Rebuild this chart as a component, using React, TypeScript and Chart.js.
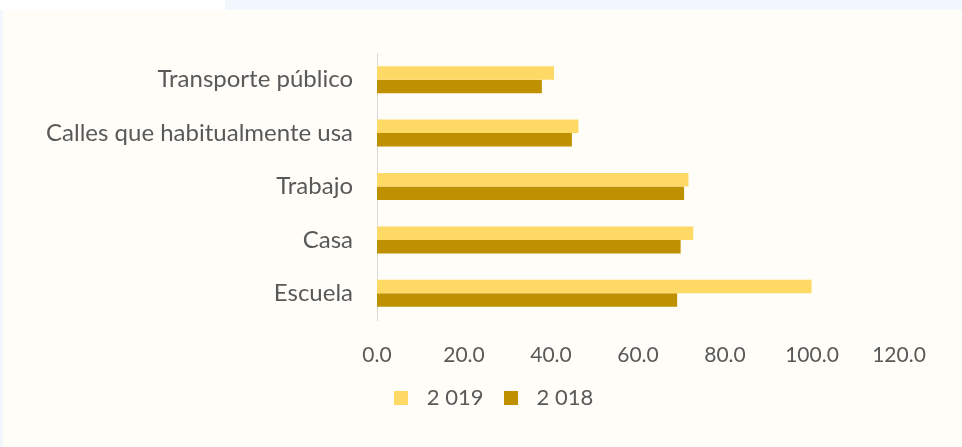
import React, { useEffect, useRef } from "react";
import { Chart, registerables } from "chart.js";

Chart.register(...registerables);

const categories = ["Transporte público", "Calles que habitualmente usa", "Trabajo", "Casa", "Escuela"];
const series2019 = [40.7, 46.3, 71.6, 72.7, 99.9];
const series2018 = [37.9, 44.8, 70.6, 69.8, 69.0];
const seriesLabels = ["2 019", "2 018"];
const seriesColors = ["#FFD966", "#BF9000"];

const FONT = "Lato, 'Open Sans', sans-serif";
const TEXT = "#595959";

function swatch(color: string) {
  const c = document.createElement("canvas");
  c.width = 14;
  c.height = 14;
  const g = c.getContext("2d")!;
  g.fillStyle = color;
  g.fillRect(0, 0, 14, 14);
  return c;
}

const shiftLegend = {
  id: "shiftLegend",
  afterLayout(chart: any) {
    const lg = chart.legend;
    if (lg) {
      lg.left += 40;
      lg.right += 40;
    }
  },
};

export default function App() {
  const ref = useRef<HTMLCanvasElement>(null);
  useEffect(() => {
    if (!ref.current) return;
    const swatches = seriesColors.map(swatch);
    const chart = new Chart(ref.current, {
      type: "bar",
      data: {
        labels: categories,
        datasets: [
          { label: seriesLabels[0], data: series2019, backgroundColor: seriesColors[0], categoryPercentage: 0.505, barPercentage: 1 },
          { label: seriesLabels[1], data: series2018, backgroundColor: seriesColors[1], categoryPercentage: 0.505, barPercentage: 1 },
        ],
      },
      plugins: [shiftLegend],
      options: {
        indexAxis: "y",
        animation: false,
        responsive: false,
        maintainAspectRatio: false,
        layout: { padding: { left: 0, right: 63, top: 53, bottom: 28 } },
        plugins: {
          tooltip: { enabled: false },
          legend: {
            position: "bottom",
            align: "center",
            labels: {
              color: TEXT,
              font: { family: FONT, size: 22 },
              usePointStyle: true,
              pointStyleWidth: 30,
              boxHeight: 14,
              padding: 12,
              generateLabels: (ch: any) => {
                const items = Chart.defaults.plugins.legend.labels.generateLabels(ch);
                items.forEach((it: any, i: number) => { it.pointStyle = swatches[i]; });
                return items;
              },
            },
          },
        },
        scales: {
          x: {
            min: 0,
            max: 120,
            ticks: {
              stepSize: 20,
              color: TEXT,
              font: { family: FONT, size: 21 },
              padding: 22.5,
              callback: (v: any) => Number(v).toFixed(1),
            },
            grid: { display: false, drawTicks: false },
            border: { display: false },
            afterFit: (s: any) => { s.height = 55; },
          },
          y: {
            ticks: {
              color: TEXT,
              font: { family: FONT, size: 24 },
              padding: 24,
            },
            grid: { display: false, drawTicks: false },
            border: { display: true, color: "#D9D9D9", width: 1 },
            afterFit: (s: any) => { s.width = 377; },
          },
        },
      },
    });
    return () => chart.destroy();
  }, []);
  return (
    <div style={{ position: "fixed", left: 0, top: 0, width: 962, height: 447, background: "#F2F6FD" }}>
      <div style={{ position: "absolute", left: 0, top: 0, width: 225, height: 10, background: "#FFFFFF" }} />
      <div style={{ position: "absolute", left: 3, top: 10, width: 959, height: 437, background: "#FFFDF7" }} />
      <canvas ref={ref} width={962} height={447} style={{ position: "absolute", left: 0, top: 0 }} />
    </div>
  );
}
